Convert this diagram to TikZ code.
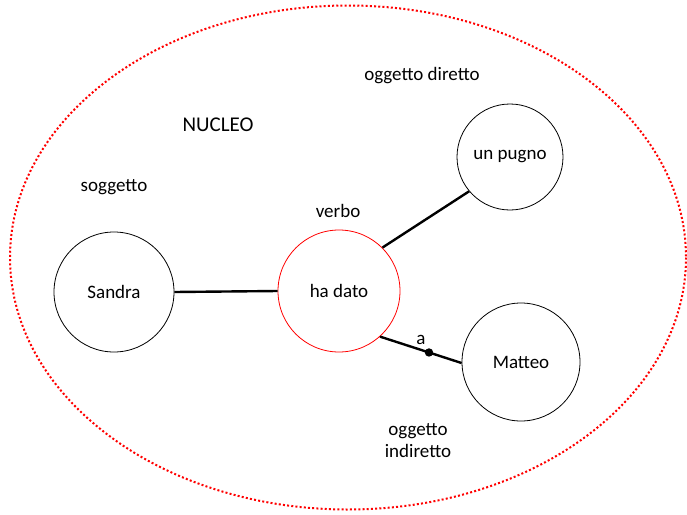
\documentclass[tikz,border=0pt]{standalone}
\usepackage{fontspec}
\setmainfont{Carlito}
\begin{document}
\begin{tikzpicture}[x=1pt,y=-1pt,
  circ/.style={circle,draw=black,line width=0.8pt,inner sep=0pt},
  redcirc/.style={circle,draw=red,line width=0.8pt,inner sep=0pt},
  conn/.style={line width=2.4pt},
  lbl/.style={font=\fontsize{19}{22}\selectfont,align=center}]
\useasboundingbox (0,0) rectangle (687,514);
\draw[red,line width=2pt,dash pattern=on 2pt off 2.2pt] (348,257.5) ellipse [x radius=338, y radius=252];
\node[circ,minimum size=120pt,lbl] (sa) at (114,292) {Sandra};
\node[redcirc,minimum size=122pt,lbl] (hd) at (339,291) {ha dato};
\node[circ,minimum size=106pt,lbl] (up) at (510,157) {un pugno};
\node[circ,minimum size=118pt,lbl] (mt) at (521,362) {Matteo};
\draw[conn] (sa.east) -- (hd.west);
\draw[conn] (hd.45) -- (up.220);
\draw[conn] (hd.-48) -- coordinate[pos=0.6] (dot) (mt.181);
\fill (dot) circle (4.2pt);
\node[lbl] (a) at (421,340) {a};
\node[lbl,font=\fontsize{21}{24}\selectfont] (nucleo) at (218,125) {NUCLEO};
\node[lbl] (sogg) at (114,187) {soggetto};
\node[lbl] (verbo) at (338,211) {verbo};
\node[lbl] (od) at (422,76) {oggetto diretto};
\node[lbl] (oi) at (418,441) {oggetto\\indiretto};
\end{tikzpicture}
\end{document}
